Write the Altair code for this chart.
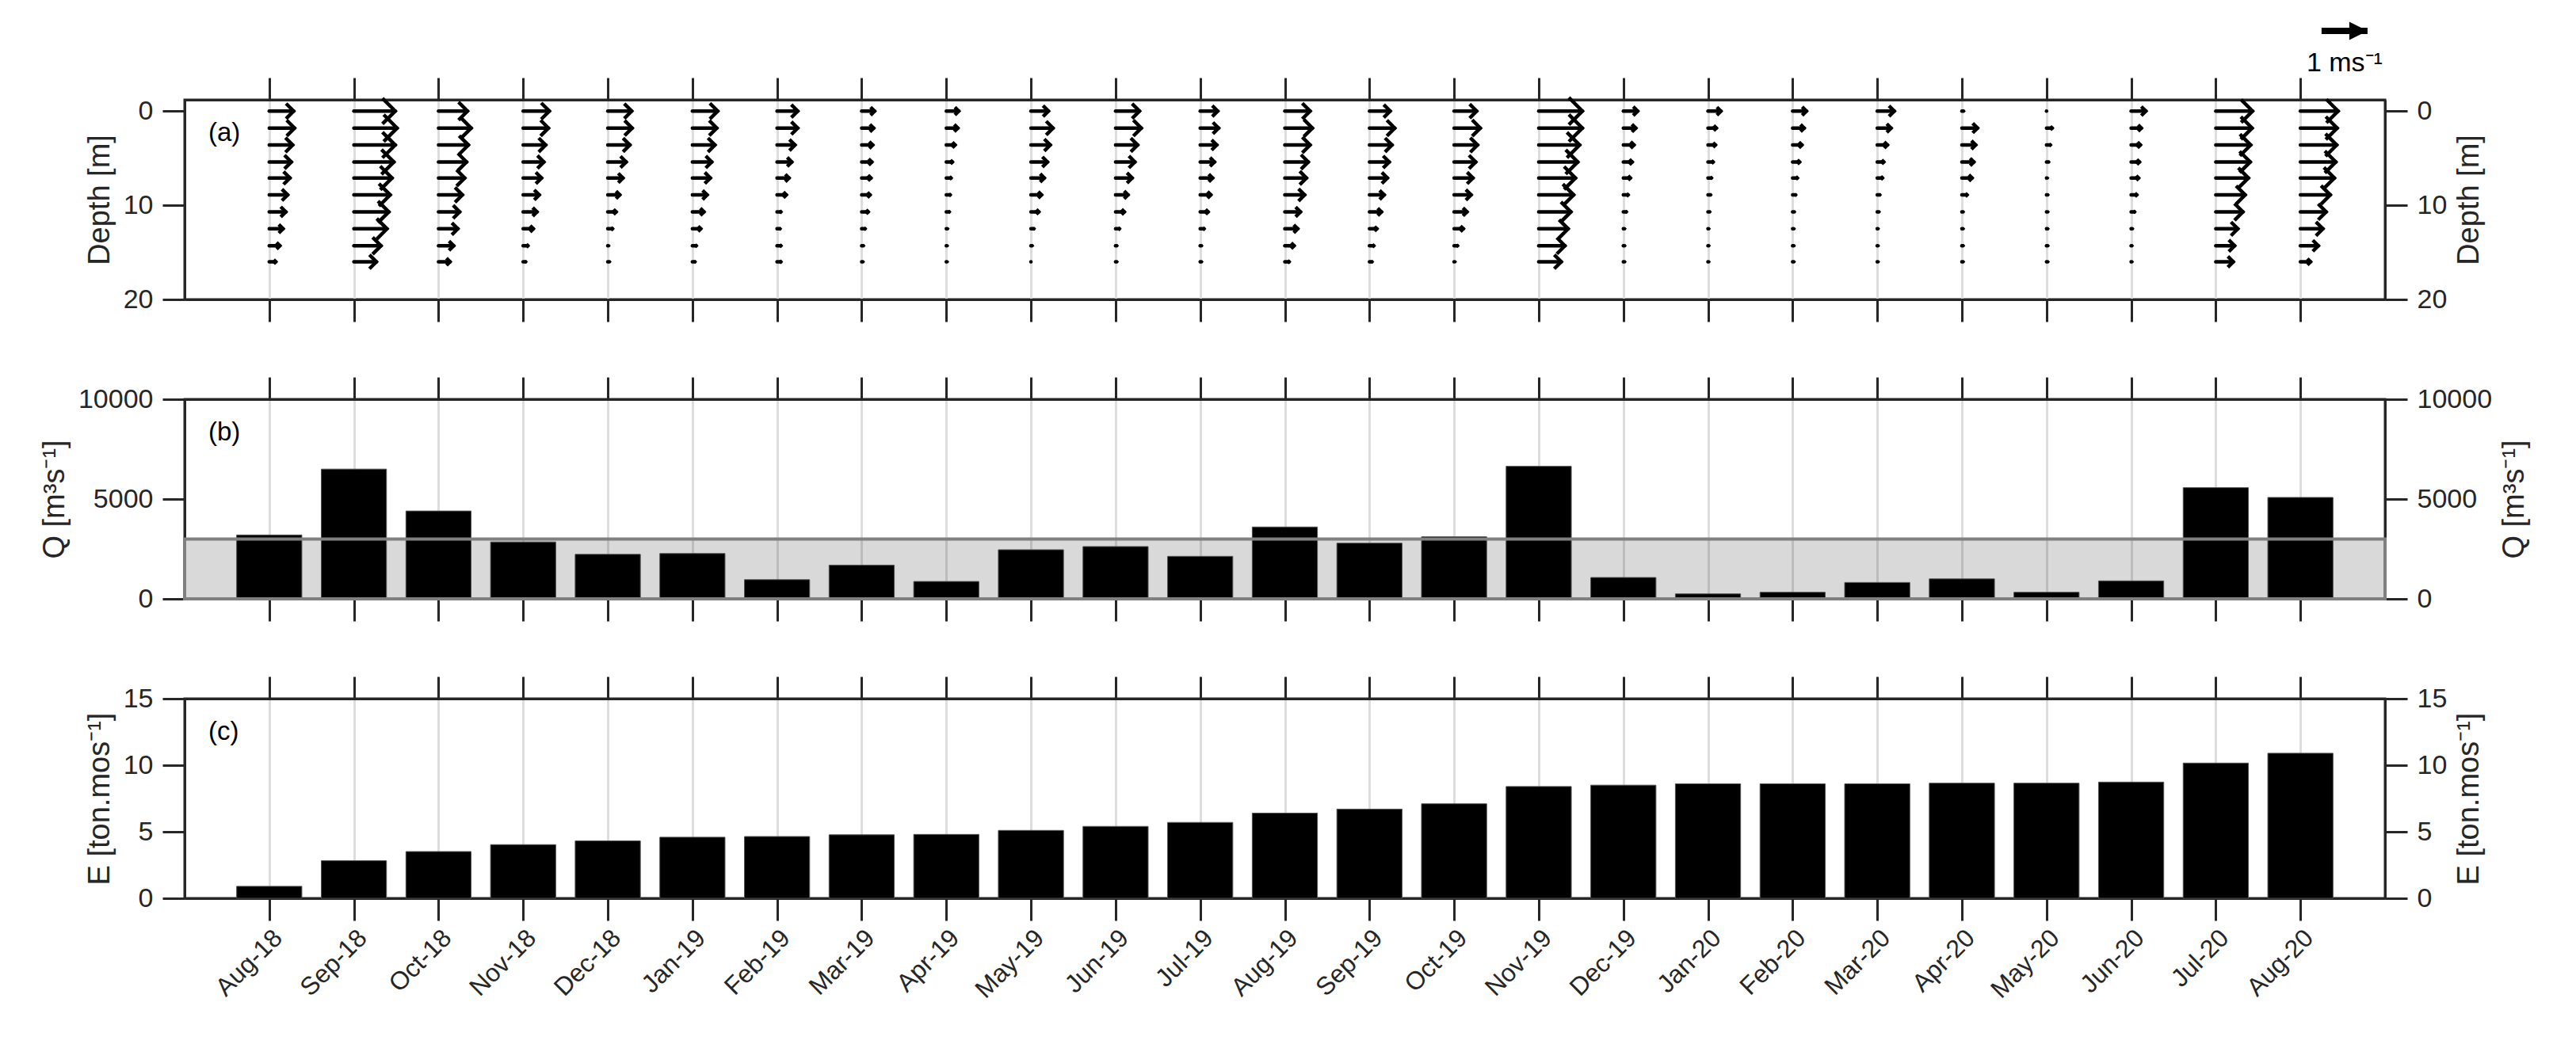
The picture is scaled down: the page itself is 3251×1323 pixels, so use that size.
import altair as alt
import pandas as pd

# ---------------- data ----------------
MONTHS = ["Aug-18", "Sep-18", "Oct-18", "Nov-18", "Dec-18", "Jan-19", "Feb-19", "Mar-19",
          "Apr-19", "May-19", "Jun-19", "Jul-19", "Aug-19", "Sep-19", "Oct-19", "Nov-19",
          "Dec-19", "Jan-20", "Feb-20", "Mar-20", "Apr-20", "May-20", "Jun-20", "Jul-20", "Aug-20"]

Q_VALUES = [3200, 6500, 4400, 2850, 2230, 2270, 960, 1690, 870, 2460, 2620, 2130, 3600,
            2790, 3110, 6640, 1070, 250, 330, 820, 1000, 330, 900, 5570, 5080]
Q_THRESHOLD = 3000

E_VALUES = [0.9, 2.82, 3.51, 4.03, 4.31, 4.59, 4.64, 4.77, 4.8, 5.1, 5.4, 5.7, 6.4,
            6.7, 7.1, 8.4, 8.5, 8.6, 8.6, 8.6, 8.65, 8.65, 8.73, 10.16, 10.9]

DEPTHS = [0, 1.8, 3.6, 5.4, 7.1, 8.9, 10.7, 12.5, 14.3, 16.0]

# eastward current speed (m/s) per month, per depth
U_PROFILES = [
    [0.53, 0.55, 0.51, 0.48, 0.45, 0.40, 0.36, 0.30, 0.23, 0.14],  # Aug-18
    [0.90, 0.94, 0.90, 0.87, 0.83, 0.79, 0.76, 0.72, 0.59, 0.49],  # Sep-18
    [0.63, 0.71, 0.65, 0.61, 0.57, 0.52, 0.46, 0.42, 0.33, 0.25],  # Oct-18
    [0.57, 0.55, 0.49, 0.45, 0.40, 0.35, 0.30, 0.22, 0.10, 0.05],  # Nov-18
    [0.52, 0.53, 0.48, 0.40, 0.33, 0.26, 0.18, 0.10, 0.01, 0.03],  # Dec-18
    [0.55, 0.53, 0.49, 0.42, 0.39, 0.32, 0.25, 0.18, 0.08, 0.05],  # Jan-19
    [0.45, 0.45, 0.39, 0.32, 0.26, 0.20, 0.08, 0.06, 0.08, 0.08],  # Feb-19
    [0.28, 0.26, 0.24, 0.22, 0.20, 0.18, 0.14, 0.07, 0.03, 0.02],  # Mar-19
    [0.27, 0.25, 0.19, 0.13, 0.10, 0.08, 0.06, 0.02, 0.01, 0.01],  # Apr-19
    [0.38, 0.48, 0.42, 0.36, 0.29, 0.23, 0.17, 0.06, 0.02, 0.00],  # May-19
    [0.52, 0.56, 0.48, 0.42, 0.36, 0.27, 0.19, 0.08, 0.02, 0.02],  # Jun-19
    [0.38, 0.40, 0.36, 0.31, 0.27, 0.23, 0.17, 0.08, 0.02, 0.02],  # Jul-19
    [0.55, 0.60, 0.55, 0.51, 0.47, 0.43, 0.34, 0.28, 0.20, 0.09],  # Aug-19
    [0.45, 0.55, 0.49, 0.43, 0.39, 0.32, 0.26, 0.16, 0.09, 0.05],  # Sep-19
    [0.49, 0.57, 0.51, 0.47, 0.41, 0.37, 0.28, 0.20, 0.07, 0.01],  # Oct-19
    [0.95, 0.95, 0.89, 0.85, 0.80, 0.76, 0.70, 0.64, 0.57, 0.49],  # Nov-19
    [0.31, 0.27, 0.23, 0.19, 0.15, 0.10, 0.06, 0.02, 0.02, 0.02],  # Dec-19
    [0.28, 0.18, 0.16, 0.11, 0.07, 0.05, 0.03, 0.01, 0.01, 0.01],  # Jan-20
    [0.30, 0.25, 0.20, 0.15, 0.10, 0.06, 0.03, 0.02, 0.02, 0.02],  # Feb-20
    [0.37, 0.30, 0.22, 0.14, 0.11, 0.05, 0.03, 0.01, 0.01, 0.01],  # Mar-20
    [0.03, 0.34, 0.30, 0.26, 0.22, 0.11, 0.02, 0.02, 0.02, 0.02],  # Apr-20
    [0.00, 0.12, 0.08, 0.04, 0.01, 0.02, 0.02, 0.02, 0.02, 0.02],  # May-20
    [0.32, 0.22, 0.20, 0.18, 0.16, 0.12, 0.07, 0.02, 0.01, 0.01],  # Jun-20
    [0.80, 0.79, 0.76, 0.75, 0.71, 0.64, 0.59, 0.48, 0.41, 0.38],  # Jul-20
    [0.82, 0.80, 0.79, 0.77, 0.74, 0.65, 0.56, 0.49, 0.39, 0.22],  # Aug-20
]

KEY_SPEED = 1.0          # reference arrow, m/s
KEY_LABEL = "1 ms\u207b\u00b9"

# ---------------- layout / style ----------------
W, H = 2777, 252
X_DOMAIN = [-1, len(MONTHS)]
STEP_PX = W / (X_DOMAIN[1] - X_DOMAIN[0])
PX_PER_MS = 58.0
ARROW_SCALE = PX_PER_MS / STEP_PX   # x units per m/s
BAR_HALF = 0.385
FONT = "Liberation Sans"
DARK = "#262626"

idx = list(range(len(MONTHS)))
label_expr = "[" + ",".join("'%s'" % m for m in MONTHS) + "][datum.value]"

x_scale = alt.Scale(domain=X_DOMAIN, nice=False, zero=False)


def x_bottom(field, labels):
    return alt.X(field, type="quantitative", scale=x_scale, title=None,
                 axis=alt.Axis(orient="bottom", values=idx, grid=True, gridColor="#dddddd",
                               gridWidth=3, labels=labels, labelExpr=label_expr,
                               labelAngle=315, labelAlign="right", labelBaseline="top",
                               labelPadding=6, labelOverlap=False, labelFlush=False,
                               labelFontSize=32))


def x_top(field):
    return alt.X(field, type="quantitative", scale=x_scale, title=None,
                 axis=alt.Axis(orient="top", values=idx, grid=False, labels=False))


def x_none(field):
    return alt.X(field, type="quantitative", scale=x_scale, title=None, axis=None)


def y_left(field, scale, vals, title, fmt="d"):
    return alt.Y(field, type="quantitative", scale=scale, title=title,
                 axis=alt.Axis(orient="left", values=vals, grid=False, format=fmt))


def y_right(field, scale, vals, title, fmt="d"):
    return alt.Y(field, type="quantitative", scale=scale, title=title,
                 axis=alt.Axis(orient="right", values=vals, grid=False, format=fmt,
                               titleAngle=270, titleBaseline="top"))


def y_none(field, scale):
    return alt.Y(field, type="quantitative", scale=scale, axis=None)


def panel_label(txt):
    return alt.Chart(pd.DataFrame({"t": [txt]})).mark_text(
        align="left", baseline="middle", fontSize=33, font=FONT, color="black"
    ).encode(x=alt.value(30), y=alt.value(42), text="t:N")


months_df = pd.DataFrame({"idx": idx, "month": MONTHS, "zero": [0] * len(MONTHS)})

# ---------------- panel (a): current profiles ----------------
rows = []
for i, prof in enumerate(U_PROFILES):
    for d, u in zip(DEPTHS, prof):
        rows.append({"idx": i, "depth": d, "u": u})
arrows_df = pd.DataFrame(rows)

ya = alt.Scale(domain=[-1.2, 20], reverse=True, nice=False, zero=False)

base_a = alt.Chart(arrows_df).transform_calculate(
    tip="datum.idx + datum.u * %f" % ARROW_SCALE,
    head="pow(datum.u * %f * 0.62, 2)" % PX_PER_MS,
)
shafts = base_a.mark_rule(strokeWidth=4.5, strokeCap="round", color="black").encode(
    x=x_bottom("idx", False), x2="tip:Q", y=y_left("depth", ya, [0, 10, 20], "Depth [m]"))
heads = base_a.mark_point(shape="M-1,-1L0,0L-1,1", filled=False, strokeWidth=4.5,
                          color="black", opacity=1).encode(
    x=x_top("tip"), y=y_right("depth", ya, [0, 10, 20], "Depth [m]"),
    size=alt.Size("head:Q", scale=None, legend=None))

key_df = pd.DataFrame({"x0": [len(MONTHS) - 0.75], "speed": [KEY_SPEED], "lab": [KEY_LABEL]})
key_base = alt.Chart(key_df).transform_calculate(
    x1="datum.x0 + datum.speed * %f" % ARROW_SCALE,
    xm="datum.x0 + datum.speed * %f / 2" % ARROW_SCALE,
)
key_shaft = key_base.mark_rule(strokeWidth=8, color="black").encode(
    x=x_none("x0"), x2="x1:Q", y=alt.value(-87))
key_head = key_base.mark_point(shape="M-1,-0.5L0,0L-1,0.5Z", filled=True, color="black",
                               size=2116, opacity=1).encode(
    x=x_none("x1"), y=alt.value(-87))
key_text = key_base.mark_text(fontSize=34, font=FONT, color="black", baseline="middle").encode(
    x=x_none("xm"), y=alt.value(-46), text="lab:N")

panel_a = alt.layer(shafts, heads, key_shaft, key_head, key_text, panel_label("(a)")).properties(
    width=W, height=H)

# ---------------- panel (b): discharge ----------------
yb = alt.Scale(domain=[0, 10000], nice=False)
q_df = pd.DataFrame({"idx": idx, "q": Q_VALUES})
band_df = pd.DataFrame({"lo": [0], "hi": [Q_THRESHOLD]})

band_fill = alt.Chart(band_df).mark_rect(color="black", opacity=0.15).encode(
    x=alt.value(0), x2=alt.value(W), y=y_none("lo", yb), y2="hi:Q")
q_bars = alt.Chart(q_df).transform_calculate(
    x0="datum.idx - %f" % BAR_HALF, x1="datum.idx + %f" % BAR_HALF
).mark_rect(color="black", stroke="#505050", strokeWidth=1).encode(
    x=x_bottom("x0", False), x2="x1:Q",
    y=y_left("q", yb, [0, 5000, 10000], "Q [m\u00b3s\u207b\u00b9]"), y2=alt.datum(0))
band_line = alt.Chart(band_df).mark_rect(fillOpacity=0, stroke="#808080", strokeWidth=4).encode(
    x=alt.value(0), x2=alt.value(W), y=y_none("lo", yb), y2="hi:Q")
b_axes = alt.Chart(months_df).mark_point(opacity=0).encode(
    x=x_top("idx"), y=y_right("zero", yb, [0, 5000, 10000], "Q [m\u00b3s\u207b\u00b9]"))

panel_b = alt.layer(band_fill, q_bars, band_line, b_axes, panel_label("(b)")).properties(
    width=W, height=H)

# ---------------- panel (c): sediment load ----------------
yc = alt.Scale(domain=[0, 15], nice=False)
e_df = pd.DataFrame({"idx": idx, "e": E_VALUES})
e_bars = alt.Chart(e_df).transform_calculate(
    x0="datum.idx - %f" % BAR_HALF, x1="datum.idx + %f" % BAR_HALF
).mark_rect(color="black", stroke="#505050", strokeWidth=1).encode(
    x=x_bottom("x0", True), x2="x1:Q",
    y=y_left("e", yc, [0, 5, 10, 15], "E [ton.mos\u207b\u00b9]"), y2=alt.datum(0))
c_axes = alt.Chart(months_df).mark_point(opacity=0).encode(
    x=x_top("idx"), y=y_right("zero", yc, [0, 5, 10, 15], "E [ton.mos\u207b\u00b9]"))

panel_c = alt.layer(e_bars, c_axes, panel_label("(c)")).properties(width=W, height=H)

chart = alt.vconcat(panel_a, panel_b, panel_c, spacing=64).properties(
    padding={"left": 40, "top": 18, "right": 5, "bottom": 5}
).configure_view(
    stroke=DARK, strokeWidth=3
).configure_axis(
    domainColor=DARK, domainWidth=3, tickColor=DARK, tickWidth=3, tickSize=28,
    labelFont=FONT, labelFontSize=34, labelColor=DARK, labelPadding=12,
    titleFont=FONT, titleFontSize=38, titleFontWeight="normal", titleColor=DARK,
    titlePadding=10,
).configure_text(font=FONT)

chart.save("out.html", embed_options={"renderer": "svg", "actions": False})
